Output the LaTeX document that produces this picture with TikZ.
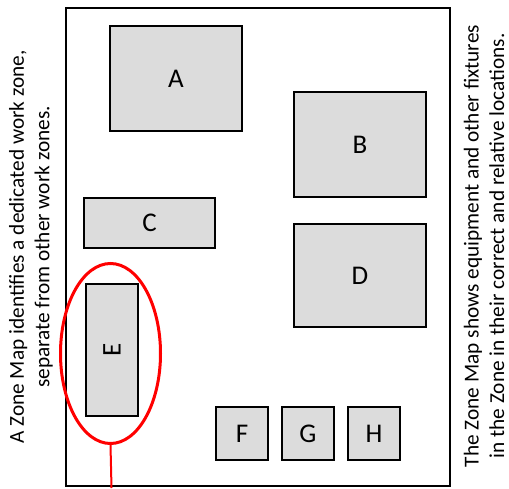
\documentclass[tikz,border=0pt]{standalone}
\usepackage{fontspec}
\setmainfont{Carlito}
\usetikzlibrary{shapes.geometric}
\definecolor{boxgray}{RGB}{220,220,220}
\begin{document}
\begin{tikzpicture}[x=1pt,y=-1pt,
  zone/.style={draw=black, line width=2pt, fill=boxgray, inner sep=0pt, font=\fontsize{27}{32}\selectfont},
  note/.style={rotate=90, align=center, font=\fontsize{21.3}{25.5}\selectfont, inner sep=0pt}]
\useasboundingbox (0,0) rectangle (509,488);
\node[draw, line width=2pt, minimum width=384pt, minimum height=478pt, inner sep=0pt] (frame) at (258,247) {};
\node[zone, minimum width=132pt, minimum height=105pt] (A) at (176,78.5) {A};
\node[zone, minimum width=132pt, minimum height=105pt] (B) at (360,144.5) {B};
\node[zone, minimum width=131pt, minimum height=50pt] (C) at (149.5,223) {C};
\node[zone, minimum width=132pt, minimum height=103pt] (D) at (360,275.5) {D};
\node[zone, minimum width=52pt, minimum height=132pt] (E) at (112,350) {\rotatebox{90}{E}};
\node[zone, minimum width=52pt, minimum height=53pt] (F) at (242,433.5) {F};
\node[zone, minimum width=52pt, minimum height=53pt] (G) at (308,433.5) {G};
\node[zone, minimum width=52pt, minimum height=53pt] (H) at (374,433.5) {H};
\node[ellipse, draw=red, line width=3pt, minimum width=100pt, minimum height=180pt, inner sep=0pt] (ell) at (110.5,353.5) {};
\coordinate (lineend) at (111.5,488);
\draw[red, line width=2pt] (ell.south) -- (lineend);
\node[note] (lefttext) at (31,247) {A Zone Map identifies a dedicated work zone,\\separate from other work zones.};
\node[note] (righttext) at (484,246) {The Zone Map shows equipment and other fixtures\\in the Zone in their correct and relative locations.};
\end{tikzpicture}
\end{document}
